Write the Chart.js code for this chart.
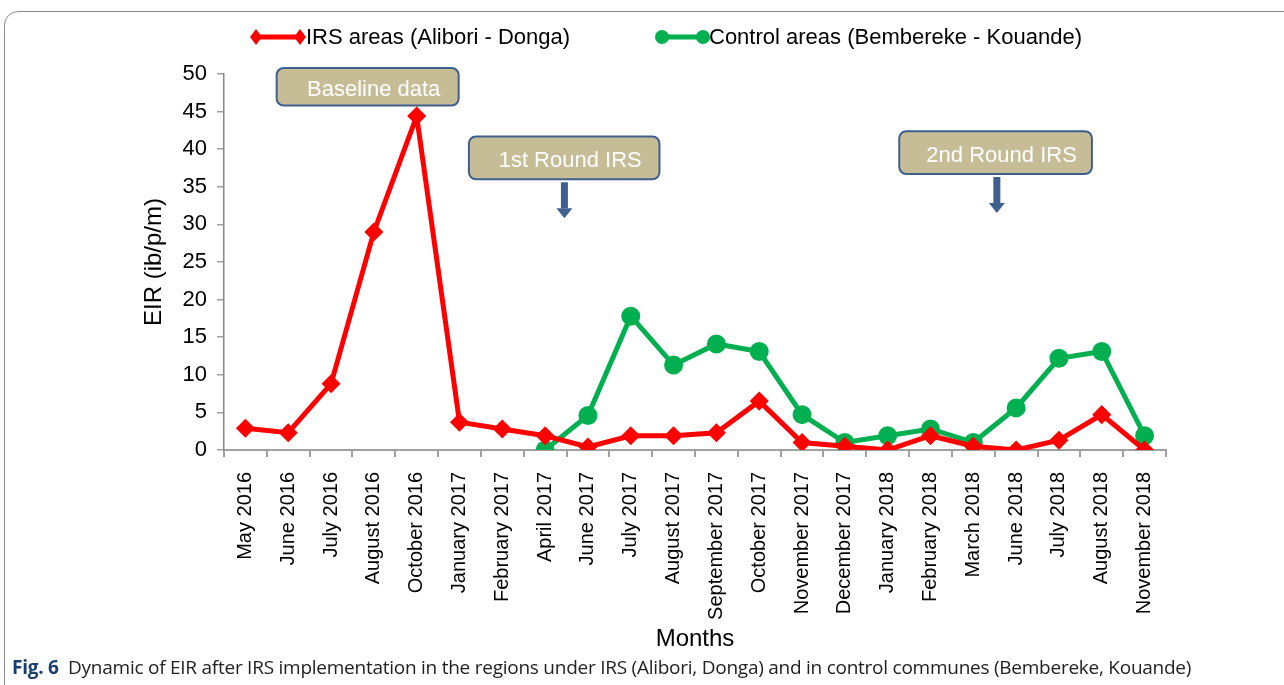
<!DOCTYPE html>
<html>
<head>
<meta charset="utf-8">
<script src="https://cdn.jsdelivr.net/npm/chart.js@4/dist/chart.umd.min.js"></script>
<style>
  html, body { margin: 0; padding: 0; background: #fff; width: 1284px; height: 685px; overflow: hidden; }
  #frame {
    position: absolute; left: 4px; top: 11px; width: 1320px; height: 720px;
    border: 1.5px solid #8a8a8a; border-radius: 14px; box-sizing: border-box;
  }
  #wrap { position: absolute; left: 0; top: 0; width: 1284px; height: 660px; }
  #caption {
    position: absolute; left: 12px; top: 654px; font-family: 'Open Sans', sans-serif;
    font-size: 19px; color: #222; white-space: nowrap; letter-spacing: -0.25px;
  }
  #caption b { color: #1a3e6e; }
</style>
</head>
<body>
<div id="frame"></div>
<div id="wrap"><canvas id="eirChart" width="1284" height="660"></canvas></div>
<div id="caption"><b>Fig. 6</b>&nbsp; Dynamic of EIR after IRS implementation in the regions under IRS (Alibori, Donga) and in control communes (Bembereke, Kouande)</div>
<script>
const months = ['May 2016', 'June 2016', 'July 2016', 'August 2016', 'October 2016', 'January 2017',
  'February 2017', 'April 2017', 'June 2017', 'July 2017', 'August 2017', 'September 2017',
  'October 2017', 'November 2017', 'December 2017', 'January 2018', 'February 2018', 'March 2018',
  'June 2018', 'July 2018', 'August 2018', 'November 2018'];
const irsAreas = [2.9, 2.3, 8.8, 29, 44.4, 3.7, 2.8, 1.9, 0.4, 1.9, 1.9, 2.3, 6.5, 1.0, 0.5, 0, 1.9, 0.5, 0, 1.3, 4.7, 0];
const controlAreas = [null, null, null, null, null, null, null, 0, 4.6, 17.8, 11.3, 14.1, 13.1, 4.7, 1.0, 1.9, 2.8, 1.0, 5.6, 12.2, 13.1, 1.9];
const yTicks = [0, 5, 10, 15, 20, 25, 30, 35, 40, 45, 50];

// callouts placed in data units (x = category index, y = EIR)
const callouts = [
  { text: 'Baseline data', x0: 0.73, x1: 4.98, y0: 50.8, y1: 45.8, arrow: false },
  { text: '1st Round IRS', x0: 5.22, x1: 9.67, y0: 41.7, y1: 36.0, arrow: true, ax: 7.45 },
  { text: '2nd Round IRS', x0: 15.27, x1: 19.77, y0: 42.4, y1: 36.7, arrow: true, ax: 17.55 }
];

const RED = '#ff0000';
const GREEN = '#00b050';
const FONT = "'Liberation Sans Narrow', 'Liberation Sans', Arial, sans-serif";

const calloutPlugin = {
  id: 'callouts',
  afterDatasetsDraw(chart) {
    const ctx = chart.ctx;
    const xs = chart.scales.x, ys = chart.scales.y;
    ctx.save();
    callouts.forEach(c => {
      const l = xs.getPixelForValue(c.x0), r = xs.getPixelForValue(c.x1);
      const t = ys.getPixelForValue(c.y0), b = ys.getPixelForValue(c.y1);
      ctx.beginPath();
      ctx.roundRect(l, t, r - l, b - t, 7);
      ctx.fillStyle = '#c6bd97';
      ctx.fill();
      ctx.lineWidth = 2;
      ctx.strokeStyle = '#3f5f8f';
      ctx.stroke();
      ctx.fillStyle = '#fff';
      ctx.font = '22px ' + FONT;
      ctx.textAlign = 'center';
      ctx.textBaseline = 'middle';
      ctx.fillText(c.text, (l + r) / 2 + 6, (t + b) / 2 + 3);
      if (c.arrow) {
        const ax = xs.getPixelForValue(c.ax);
        const top = b + 3, bot = b + 39;
        ctx.fillStyle = '#3f5f8f';
        ctx.fillRect(ax - 3.5, top, 7, 26);
        ctx.beginPath();
        ctx.moveTo(ax - 8, top + 26);
        ctx.lineTo(ax + 8, top + 26);
        ctx.lineTo(ax, bot);
        ctx.closePath();
        ctx.fill();
      }
    });
    ctx.restore();
  }
};

const legendPlugin = {
  id: 'topLegend',
  afterDraw(chart) {
    const ctx = chart.ctx;
    const items = [
      { ds: chart.data.datasets[0], x: 250, w: 54, shape: 'diamond' },
      { ds: chart.data.datasets[1], x: 656, w: 51, shape: 'circle' }
    ];
    const y = 37;
    ctx.save();
    items.forEach(it => {
      ctx.strokeStyle = it.ds.borderColor;
      ctx.fillStyle = it.ds.borderColor;
      ctx.lineWidth = 5;
      ctx.beginPath();
      ctx.moveTo(it.x + 4, y);
      ctx.lineTo(it.x + it.w - 4, y);
      ctx.stroke();
      [it.x + 6, it.x + it.w - 4].forEach(px => {
        ctx.beginPath();
        if (it.shape === 'diamond') {
          ctx.moveTo(px, y - 8); ctx.lineTo(px + 6, y); ctx.lineTo(px, y + 8); ctx.lineTo(px - 6, y);
          ctx.closePath();
        } else {
          ctx.arc(px, y, 7, 0, Math.PI * 2);
        }
        ctx.fill();
      });
      ctx.fillStyle = '#000';
      ctx.font = '22px ' + FONT;
      ctx.textAlign = 'left';
      ctx.textBaseline = 'middle';
      ctx.fillText(it.ds.label, it.x + it.w + 2, y + 1);
    });
    ctx.restore();
  }
};

new Chart(document.getElementById('eirChart'), {
  type: 'line',
  data: {
    labels: months,
    datasets: [
      {
        label: 'IRS areas (Alibori - Donga)',
        data: irsAreas,
        borderColor: RED, backgroundColor: RED,
        borderWidth: 5, pointStyle: 'rectRot', pointRadius: 6, pointHoverRadius: 6,
        tension: 0
      },
      {
        label: 'Control areas (Bembereke - Kouande)',
        data: controlAreas,
        borderColor: GREEN, backgroundColor: GREEN,
        borderWidth: 5, pointStyle: 'circle', pointRadius: 7, pointHoverRadius: 7,
        tension: 0, spanGaps: false
      }
    ]
  },
  options: {
    responsive: false,
    animation: false,
    events: [],
    layout: { padding: { top: 74, right: 118, left: 140, bottom: 0 } },
    plugins: { legend: { display: false }, tooltip: { enabled: false } },
    scales: {
      x: {
        offset: true,
        afterFit: s => { s.height = 210; },
        grid: { display: true, offset: true, drawOnChartArea: false, drawTicks: true, tickLength: 7, color: '#a0a0a0', lineWidth: 2 },
        border: { display: true, color: '#a0a0a0', width: 2 },
        ticks: { color: '#000', font: { family: FONT, size: 20 }, minRotation: 90, maxRotation: 90, autoSkip: false, padding: 15 },
        title: { display: true, text: 'Months', color: '#000', font: { family: FONT, size: 24 }, padding: { top: 0, bottom: 6 } }
      },
      y: {
        min: 0, max: 50,
        afterFit: s => { s.width = 84; },
        afterBuildTicks: s => { s.ticks = yTicks.map(v => ({ value: v })); },
        grid: { display: true, drawOnChartArea: false, drawTicks: true, tickLength: 7, color: '#a0a0a0', lineWidth: 1.5 },
        border: { display: true, color: '#888', width: 1.5, dash: [4, 3] },
        ticks: { color: '#000', font: { family: FONT, size: 22 }, padding: 10 },
        title: { display: true, text: 'EIR (ib/p/m)', color: '#000', font: { family: FONT, size: 24 }, padding: { top: 0, bottom: 4 } }
      }
    }
  },
  plugins: [calloutPlugin, legendPlugin]
});
</script>
</body>
</html>
